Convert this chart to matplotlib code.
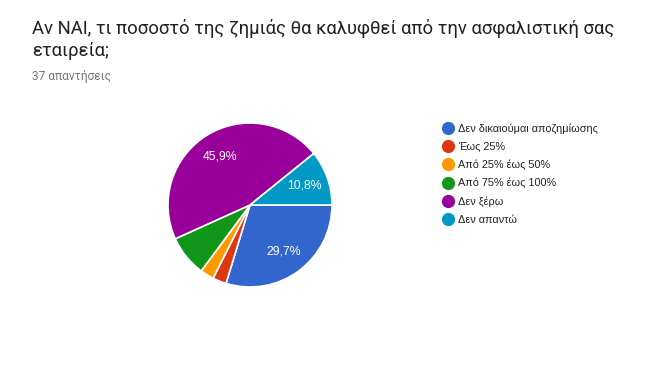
import matplotlib
matplotlib.use("Agg")
import matplotlib.pyplot as plt
from matplotlib.lines import Line2D

plt.rcParams['font.family'] = ['Roboto', 'DejaVu Sans']

title = "Αν ΝΑΙ, τι ποσοστό της ζημιάς θα καλυφθεί από την ασφαλιστική σας\nεταιρεία;"
subtitle = "37 απαντήσεις"
categories = ["Δεν δικαιούμαι αποζημίωσης", "Έως 25%", "Από 25% έως 50%",
              "Από 75% έως 100%", "Δεν ξέρω", "Δεν απαντώ"]
counts = [11, 1, 1, 3, 17, 4]
colors = ["#3366cc", "#dc3912", "#ff9900", "#109618", "#990099", "#0099c6"]

W, H = 656, 369
fig = plt.figure(figsize=(W / 100, H / 100), dpi=100)
fig.patch.set_facecolor("white")

fig.text(32 / W, 1 - 19 / H, title, fontsize=13.3, color="#212121",
         ha="left", va="top", linespacing=1.3)
fig.text(32 / W, 1 - 70 / H, subtitle, fontsize=8.6, color="#757575",
         ha="left", va="top")

cx, cy, r = 250, 205, 82
ax = fig.add_axes([(cx - r) / W, (H - cy - r) / H, 2 * r / W, 2 * r / H])

def fmt(p):
    return ("%.1f%%" % p).replace(".", ",") if p >= 10 else ""

wedges, texts, autotexts = ax.pie(
    counts, colors=colors, startangle=0, counterclock=False, radius=1,
    autopct=fmt, pctdistance=0.7,
    wedgeprops=dict(edgecolor="white", linewidth=1.2),
    textprops=dict(color="white", fontsize=8.8, family=["Liberation Sans", "DejaVu Sans"]))
ax.set_xlim(-1, 1)
ax.set_ylim(-1, 1)
ax.set_aspect("equal")
ax.axis("off")

handles = [Line2D([0], [0], marker="o", linestyle="", markersize=8.5,
                  markerfacecolor=c, markeredgecolor=c) for c in colors]
fig.legend(handles, categories, loc="upper left",
           bbox_to_anchor=(441 / W, 1 - 123 / H), frameon=False,
           prop=dict(family=["Liberation Sans", "DejaVu Sans"], size=7.8),
           handletextpad=0.35, labelspacing=0.74,
           handlelength=1.2, borderaxespad=0, borderpad=0,
           labelcolor="#222222")

fig.savefig("out.png", dpi=100, facecolor="white")
